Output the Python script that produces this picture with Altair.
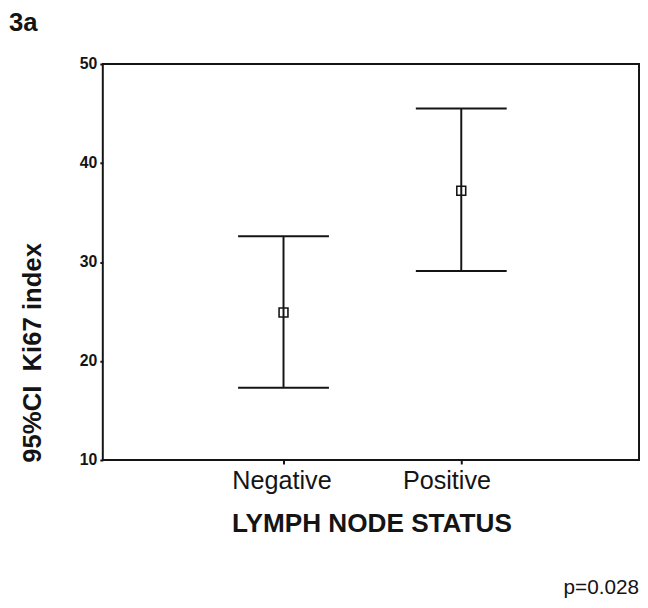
import altair as alt
import pandas as pd

# ---- data ----
categories = ["Negative", "Positive"]
ci_mean = [24.9, 37.2]
ci_lower = [17.3, 29.1]
ci_upper = [32.6, 45.5]
y_ticks = [10, 20, 30, 40, 50]

panel_label = ["3a"]
p_note = ["p=0.028"]

df = pd.DataFrame({"status": categories, "mean": ci_mean,
                   "lower": ci_lower, "upper": ci_upper})

FONT = "Liberation Sans"
INK = "#141414"

x_axis = alt.Axis(
    title="LYMPH NODE STATUS", domain=False, grid=False,
    ticks=True, tickSize=4, tickWidth=2, tickColor=INK,
    labelFont=FONT, labelFontSize=25.5, labelColor=INK, labelAngle=0,
    labelBaseline="alphabetic", labelPadding=25,
    labelOffset={"condition": {"test": "datum.value == 'Positive'", "value": -15}, "value": -2},
    titleFont=FONT, titleFontSize=26.5, titleFontWeight="bold", titleColor=INK,
    titleX=272, titleY=72, titleBaseline="alphabetic", titleAlign="center",
)
x_scale = alt.Scale(type="point", range=[183, 363], padding=0)

y_axis = alt.Axis(
    values=y_ticks, domain=False, grid=False, labelFlush=False,
    tickSize=3, tickWidth=2, tickColor=INK,
    labelFont=FONT, labelFontSize=16, labelFontWeight="bold", labelColor=INK,
    labelPadding=3,
    title="95%CI\u00a0 Ki67 index", titleFont=FONT, titleFontSize=26,
    titleFontWeight="bold", titleColor=INK, titleAngle=270,
    titleX=-63, titleY=292, titleAlign="center", titleBaseline="alphabetic",
)
y_scale = alt.Scale(domain=[10, 50], nice=False, zero=False)

base = alt.Chart(df)
X = alt.X("status:N", sort=categories, scale=x_scale, axis=x_axis)

whisker = base.mark_rule(color=INK, strokeWidth=2).encode(
    x=X,
    y=alt.Y("lower:Q", scale=y_scale, axis=y_axis),
    y2="upper:Q",
)
cap_low = base.mark_tick(color=INK, thickness=2, size=92, orient="horizontal", opacity=1).encode(
    x=X, y=alt.Y("lower:Q", scale=y_scale, axis=y_axis)
)
cap_up = base.mark_tick(color=INK, thickness=2, size=92, orient="horizontal", opacity=1).encode(
    x=X, y=alt.Y("upper:Q", scale=y_scale, axis=y_axis)
)
mean_pt = base.mark_point(shape="square", size=81, filled=False, color=INK,
                          strokeWidth=1.6, opacity=1).encode(
    x=X, y=alt.Y("mean:Q", scale=y_scale, axis=y_axis)
)

lab3a = alt.Chart(pd.DataFrame({"t": panel_label})).mark_text(
    font=FONT, fontSize=26, fontWeight="bold", align="left",
    baseline="alphabetic", color=INK
).encode(text="t:N", x=alt.value(-95), y=alt.value(-33))

pnote = alt.Chart(pd.DataFrame({"t": p_note})).mark_text(
    font=FONT, fontSize=21, align="right", baseline="alphabetic", color=INK
).encode(text="t:N", x=alt.value(543), y=alt.value(537))

chart = alt.layer(whisker, cap_low, cap_up, mean_pt, lab3a, pnote).properties(
    width=543, height=401,
    padding={"left": 96, "top": 53, "right": 1, "bottom": 139},
    autosize=alt.AutoSizeParams(type="none"),
    background="white",
).configure_view(stroke=INK, strokeWidth=2)

chart.save("out.html", embed_options={"renderer": "svg", "actions": False})
